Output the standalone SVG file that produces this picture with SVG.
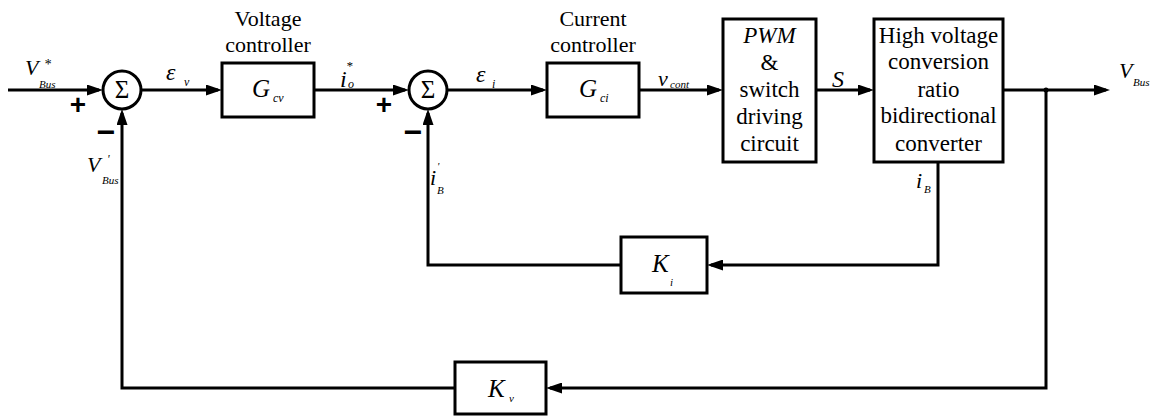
<svg xmlns="http://www.w3.org/2000/svg" width="1156" height="416" viewBox="0 0 1156 416">
<defs>
<marker id="arr" viewBox="0 0 16 11" refX="12" refY="5.5" markerWidth="16" markerHeight="11" markerUnits="userSpaceOnUse" orient="auto">
<path d="M0,0 L16,5.5 L0,11 z" fill="#000"/>
</marker>
</defs>
<style>
.box{fill:#fff;stroke:#000;stroke-width:3}
.ar{fill:none;stroke:#000;stroke-width:3;marker-end:url(#arr)}
.t{fill:#000;text-anchor:middle}
.m{font-style:italic;fill:#000}
.sg{font-weight:bold;fill:#000;text-anchor:middle}
</style>
<rect width="1156" height="416" fill="#fff"/>

<g id="connectors">
<path class="ar" d="M8,90 H99"/>
<path class="ar" d="M141,90 H218"/>
<path class="ar" d="M314,90 H405"/>
<path class="ar" d="M447,90 H543"/>
<path class="ar" d="M639,90 H719"/>
<path class="ar" d="M816,90 H870"/>
<path class="ar" d="M1003,90 H1106"/>
<circle cx="1046" cy="90" r="2.5" fill="#000"/>
<path class="ar" d="M1046,90 V388 H550"/>
<path class="ar" d="M455,388 H122 V113"/>
<path class="ar" d="M938,162 V265 H711"/>
<path class="ar" d="M621,265 H428 V113"/>
</g>

<g id="labels" font-family="Liberation Serif, Times New Roman, DejaVu Serif, serif">
<text class="m" x="25" y="75" font-size="22">V</text>
<text class="m" x="44" y="69" font-size="14">*</text>
<text class="m" x="39" y="88" font-size="11">Bus</text>
<text class="m" x="166" y="80" font-size="24">ε</text>
<text class="m" x="184" y="86" font-size="12">v</text>
<text class="m" x="340" y="87" font-size="24">i</text>
<text class="m" x="346" y="70" font-size="13">*</text>
<text class="m" x="348" y="88" font-size="12">o</text>
<text class="m" x="476" y="82" font-size="24">ε</text>
<text class="m" x="492" y="88" font-size="12">i</text>
<text class="m" x="658" y="86" font-size="22">v</text>
<text class="m" x="670" y="88" font-size="11">cont</text>
<text class="m" x="832" y="87" font-size="24">S</text>
<text class="m" x="1119" y="78" font-size="22">V</text>
<text class="m" x="1133" y="86" font-size="11">Bus</text>
<text class="m" x="87" y="172" font-size="22">V</text>
<text class="m" x="107" y="163" font-size="12">'</text>
<text class="m" x="102" y="184" font-size="11">Bus</text>
<text class="m" x="430" y="185" font-size="22">i</text>
<text class="m" x="437" y="170" font-size="11">'</text>
<text class="m" x="437" y="194" font-size="11">B</text>
<text class="m" x="916" y="188" font-size="22">i</text>
<text class="m" x="924" y="193" font-size="11">B</text>
</g>
<g id="signs" font-family="Liberation Sans, Arial, sans-serif">
<text class="sg" x="78" y="114" font-size="28">+</text>
<text class="sg" x="106" y="143" font-size="32">−</text>
<text class="sg" x="384" y="114" font-size="28">+</text>
<text class="sg" x="413" y="143" font-size="32">−</text>
</g>

<g id="sum1" font-family="Liberation Serif, Times New Roman, DejaVu Serif, serif">
<circle cx="122" cy="90" r="19" class="box"/>
<text class="t" x="122" y="98" font-size="25">Σ</text>
</g>

<g id="sum2" font-family="Liberation Serif, Times New Roman, DejaVu Serif, serif">
<circle cx="428" cy="90" r="19" class="box"/>
<text class="t" x="428" y="98" font-size="25">Σ</text>
</g>

<g id="Gcv" font-family="Liberation Serif, Times New Roman, DejaVu Serif, serif">
<text class="t" x="268" y="26" font-size="22">Voltage</text>
<text class="t" x="268" y="52" font-size="22">controller</text>
<rect class="box" x="222" y="63" width="92" height="54"/>
<text class="m" x="252" y="97" font-size="25">G</text>
<text class="m" x="273" y="102" font-size="12">cv</text>
</g>

<g id="Gci" font-family="Liberation Serif, Times New Roman, DejaVu Serif, serif">
<text class="t" x="593" y="26" font-size="22">Current</text>
<text class="t" x="593" y="52" font-size="22">controller</text>
<rect class="box" x="547" y="63" width="92" height="54"/>
<text class="m" x="579" y="97" font-size="25">G</text>
<text class="m" x="600" y="102" font-size="12">ci</text>
</g>

<g id="PWM" font-family="Liberation Serif, Times New Roman, DejaVu Serif, serif" font-size="23">
<rect class="box" x="723" y="19" width="93" height="143"/>
<text class="t" x="769.5" y="43" font-style="italic">PWM</text>
<text class="t" x="769.5" y="70">&amp;</text>
<text class="t" x="769.5" y="97">switch</text>
<text class="t" x="769.5" y="124">driving</text>
<text class="t" x="769.5" y="151">circuit</text>
</g>

<g id="converter" font-family="Liberation Serif, Times New Roman, DejaVu Serif, serif" font-size="23">
<rect class="box" x="874" y="19" width="129" height="143"/>
<text class="t" x="938.5" y="43">High voltage</text>
<text class="t" x="938.5" y="69">conversion</text>
<text class="t" x="938.5" y="97">ratio</text>
<text class="t" x="938.5" y="123">bidirectional</text>
<text class="t" x="938.5" y="151">converter</text>
</g>

<g id="Ki" font-family="Liberation Serif, Times New Roman, DejaVu Serif, serif">
<rect class="box" x="621" y="237" width="86" height="56"/>
<text class="m" x="652" y="272" font-size="25">K</text>
<text class="m" x="670" y="286" font-size="11">i</text>
</g>

<g id="Kv" font-family="Liberation Serif, Times New Roman, DejaVu Serif, serif">
<rect class="box" x="455" y="362" width="91" height="52"/>
<text class="m" x="488" y="397" font-size="25">K</text>
<text class="m" x="509" y="402" font-size="11">v</text>
</g>
</svg>
